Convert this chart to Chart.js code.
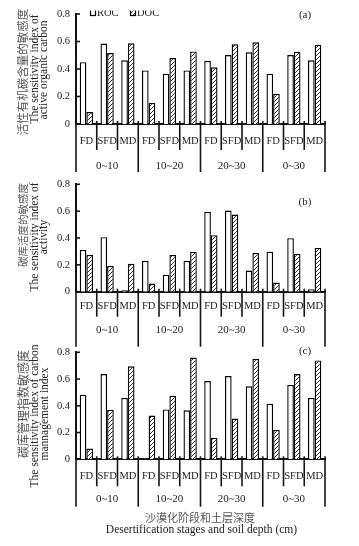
<!DOCTYPE html>
<html><head><meta charset="utf-8">
<script src="https://cdn.jsdelivr.net/npm/chart.js@4.4.1/dist/chart.umd.min.js"></script>
<style>
html,body{margin:0;padding:0;background:#fff;width:359px;height:546px;overflow:hidden}
canvas{position:absolute;left:0}
</style></head><body>
<canvas id="ca" width="359" height="180" style="top:0px"></canvas>
<canvas id="cb" width="359" height="178" style="top:172px"></canvas>
<canvas id="cc" width="359" height="206" style="top:340px"></canvas>
<script>
// ---- data ----
const categories = ['FD','SFD','MD','FD','SFD','MD','FD','SFD','MD','FD','SFD','MD'];
const depthGroups = ['0~10','10~20','20~30','0~30'];
const seriesNames = ['ROC','DOC'];
const yTicks = [0, 0.2, 0.4, 0.6, 0.8];
const yTickLabels = ['0','0.2','0.4','0.6','0.8'];

const rocA = [0.450, 0.585, 0.463, 0.390, 0.366, 0.390, 0.460, 0.502, 0.521, 0.366, 0.502, 0.463];
const docA = [0.087, 0.516, 0.587, 0.153, 0.480, 0.528, 0.412, 0.580, 0.594, 0.220, 0.526, 0.575];

const rocB = [0.311, 0.406, 0.010, 0.230, 0.127, 0.230, 0.594, 0.604, 0.157, 0.298, 0.399, 0.018];
const docB = [0.274, 0.193, 0.208, 0.061, 0.274, 0.298, 0.421, 0.575, 0.289, 0.068, 0.282, 0.326];

const rocC = [0.483, 0.637, 0.459, 0.007, 0.373, 0.366, 0.585, 0.622, 0.546, 0.415, 0.556, 0.459];
const docC = [0.080, 0.371, 0.695, 0.327, 0.476, 0.761, 0.161, 0.305, 0.751, 0.220, 0.637, 0.739];

// ---- style ----
const SERIF = "'Liberation Serif','Times New Roman',serif";
const CJK = "'Noto Sans CJK SC','Noto Sans CJK JP',sans-serif";
const TEXT = '#222';
const CJKTEXT = '#555';
const AXIS = '#151515';

function makeHatch(){
  const c = document.createElement('canvas'); c.width = 4; c.height = 4;
  const g = c.getContext('2d');
  g.fillStyle = '#fff'; g.fillRect(0,0,4,4);
  g.strokeStyle = '#333'; g.lineWidth = 1;
  g.beginPath();
  g.moveTo(-1,5); g.lineTo(5,-1);
  g.moveTo(-1,1); g.lineTo(1,-1);
  g.moveTo(3,5); g.lineTo(5,3);
  g.stroke();
  return g.createPattern(c,'repeat');
}
const hatch = makeHatch();

const panels = [
  {key:'a', id:'ca', roc:rocA, doc:docA, canvasTop:0, H:180, areaTop:14, areaBottom:124,
   catLabel:17.7, grpLabel:41.7, catLine:26, grpLine:48, letter:'(a)', letterY:14.7, legend:true,
   titles:[
     {t:'活性有机碳含量的敏感度', x:23, y:72, align:'center', cjk:true, size:11.5},
     {t:'The sensitivity index of', x:34.5, y:69, align:'center'},
     {t:'active organic carbon', x:44, y:70, align:'center'}
   ]},
  {key:'b', id:'cb', roc:rocB, doc:docB, canvasTop:172, H:178, areaTop:10.7, areaBottom:119.7,
   catLabel:15, grpLabel:38.3, catLine:25, grpLine:55, letter:'(b)', letterY:202.5,
   titles:[
     {t:'碳库活度的敏感度', x:23, y:183, align:'right', cjk:true, size:10.5},
     {t:'The sensitivity index of', x:34.5, y:237, align:'center'},
     {t:'activity', x:44, y:237, align:'center'}
   ]},
  {key:'c', id:'cc', roc:rocC, doc:docC, canvasTop:340, H:206, areaTop:10, areaBottom:119.3,
   catLabel:16.7, grpLabel:40, catLine:27, grpLine:47.4, letter:'(c)', letterY:351, xTitle:true,
   titles:[
     {t:'碳库管理指数敏感度', x:23, y:404, align:'center', cjk:true, size:12},
     {t:'The sensitivity index of carbon', x:35, y:416, align:'center'},
     {t:'mannagement index', x:45, y:414, align:'center'}
   ]}
];

const TICK_FONT = 10.5;
const LH = TICK_FONT * 1.2;
const XH = 28, X2H = 22;

function decor(P){
  return {
    id:'decor'+P.key,
    afterDraw(chart){
      const ctx = chart.ctx, a = chart.chartArea, xs = chart.scales.x, ys = chart.scales.y;
      const T = P.canvasTop;
      ctx.save();
      ctx.strokeStyle = AXIS; ctx.lineWidth = 1.6;
      const seg = (x1,y1,x2,y2) => { ctx.beginPath(); ctx.moveTo(x1,y1); ctx.lineTo(x2,y2); ctx.stroke(); };
      // inward y ticks
      yTicks.forEach(v => { const py = ys.getPixelForValue(v); seg(a.left, py, a.left + 4, py); });
      // category / group separators
      const per = categories.length / depthGroups.length;
      for (let i = 0; i <= categories.length; i++) {
        const px = xs.getPixelForValue(i - 0.5);
        const g = (i % per) === 0;
        seg(px, a.bottom - 3, px, a.bottom + (g ? P.grpLine : P.catLine));
      }
      // panel letter
      ctx.fillStyle = TEXT; ctx.font = `11px ${SERIF}`; ctx.textAlign = 'center'; ctx.textBaseline = 'middle';
      ctx.fillText(P.letter, 305, P.letterY - T);
      // y titles
      P.titles.forEach(L => {
        ctx.save();
        ctx.translate(L.x, L.y - T);
        ctx.rotate(-Math.PI/2);
        ctx.font = L.cjk ? `${L.size}px ${CJK}` : `11.5px ${SERIF}`;
        ctx.fillStyle = L.cjk ? CJKTEXT : TEXT;
        ctx.textAlign = L.align; ctx.textBaseline = 'middle';
        ctx.fillText(L.t, 0, 0);
        ctx.restore();
      });
      // legend
      if (P.legend) {
        ctx.save();
        ctx.beginPath(); ctx.rect(0, 10.5, chart.width, chart.height); ctx.clip();
        ctx.lineWidth = 1.2; ctx.strokeStyle = '#000';
        ctx.fillStyle = '#fff'; ctx.fillRect(90.5, 8.5, 5, 7); ctx.strokeRect(90.5, 8.5, 5, 7);
        ctx.fillStyle = hatch; ctx.fillRect(130.5, 8.5, 5, 7); ctx.strokeRect(130.5, 8.5, 5, 7);
        ctx.fillStyle = TEXT; ctx.font = `10.5px ${SERIF}`; ctx.textAlign = 'left'; ctx.textBaseline = 'alphabetic';
        ctx.fillText(seriesNames[0], 97, 15.5);
        ctx.fillText(seriesNames[1], 137, 15.5);
        ctx.restore();
      }
      // x title
      if (P.xTitle) {
        ctx.textAlign = 'center'; ctx.textBaseline = 'middle';
        ctx.fillStyle = CJKTEXT; ctx.font = `11px ${CJK}`;
        ctx.fillText('沙漠化阶段和土层深度', 200, 518 - T);
        ctx.fillStyle = TEXT; ctx.font = `11.5px ${SERIF}`;
        ctx.fillText('Desertification stages and soil depth (cm)', 201.5, 529.5 - T);
      }
      ctx.restore();
    }
  };
}

panels.forEach(P => {
  const padBottom = P.H - P.areaBottom - XH - X2H;
  new Chart(document.getElementById(P.id), {
    type: 'bar',
    data: {
      labels: categories,
      datasets: [
        {label: seriesNames[0], data: P.roc, backgroundColor: '#fff', borderColor: '#000', borderWidth: 1.4, borderSkipped: 'start'},
        {label: seriesNames[1], data: P.doc, backgroundColor: hatch, borderColor: '#000', borderWidth: 1.4, borderSkipped: 'start'}
      ]
    },
    options: {
      responsive: false, animation: false, devicePixelRatio: 1,
      layout: {padding: {left: 0, right: 359 - 325, top: P.areaTop, bottom: padBottom}},
      datasets: {bar: {categoryPercentage: 0.64, barPercentage: 1}},
      plugins: {legend: {display: false}, tooltip: {enabled: false}},
      scales: {
        x: {
          type: 'category', offset: true, weight: 0,
          grid: {display: false, drawTicks: false},
          border: {display: true, color: AXIS, width: 2},
          ticks: {autoSkip: false, maxRotation: 0, minRotation: 0, padding: P.catLabel - LH/2, color: TEXT, font: {family: SERIF, size: TICK_FONT}},
          afterFit(s){ s.height = XH; }
        },
        x2: {
          type: 'category', labels: depthGroups, offset: true, position: 'bottom', weight: 1,
          grid: {display: false, drawTicks: false},
          border: {display: false},
          ticks: {autoSkip: false, maxRotation: 0, minRotation: 0, padding: P.grpLabel - XH - LH/2, color: TEXT, font: {family: SERIF, size: 11}},
          afterFit(s){ s.height = X2H; }
        },
        y: {
          min: 0, max: 0.8,
          afterBuildTicks(s){ s.ticks = yTicks.map(v => ({value: v})); },
          grid: {display: false, drawTicks: false},
          border: {display: true, color: AXIS, width: 2},
          ticks: {padding: 6, color: TEXT, font: {family: SERIF, size: TICK_FONT}, callback: (v, i) => yTickLabels[i]},
          afterFit(s){ s.width = 76; }
        }
      }
    },
    plugins: [decor(P)]
  });
});
</script>
</body></html>
